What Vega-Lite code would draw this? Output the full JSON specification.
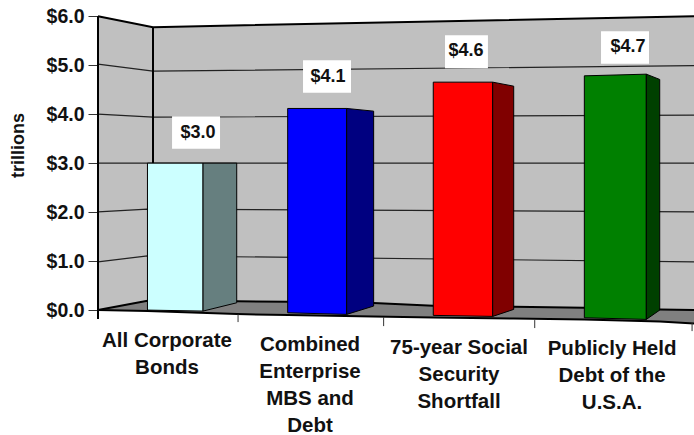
{
"$schema":"https://vega.github.io/schema/vega-lite/v6.json",
"width":596,"height":435,
"autosize":{"type":"none"},
"padding":{"left":98,"top":0,"right":0,"bottom":0},
"background":"white",
"config":{"view":{"stroke":null}},
"resolve":{"scale":{"color":"independent"}},
"datasets":{
"surface":[
{"part":"wall","pos":0,"top":6,"bottom":0},
{"part":"wall","pos":0.332,"top":5.796,"bottom":0.19},
{"part":"wall","pos":0.369,"top":5.776,"bottom":0.187},
{"part":"wall","pos":0.933,"top":5.81,"bottom":0.178},
{"part":"wall","pos":1.275,"top":5.83,"bottom":0.169},
{"part":"wall","pos":1.849,"top":5.867,"bottom":0.143},
{"part":"wall","pos":2.25,"top":5.89,"bottom":0.088},
{"part":"wall","pos":2.79,"top":5.925,"bottom":0.067},
{"part":"wall","pos":3.264,"top":5.955,"bottom":0.047},
{"part":"wall","pos":3.77,"top":5.985,"bottom":0.014},
{"part":"wall","pos":4,"top":6,"bottom":0},
{"part":"floor","pos":0,"top":0,"bottom":0},
{"part":"floor","pos":0.332,"top":0.19,"bottom":-0.02},
{"part":"floor","pos":0.933,"top":0.178,"bottom":-0.082},
{"part":"floor","pos":1.275,"top":0.169,"bottom":-0.102},
{"part":"floor","pos":1.849,"top":0.143,"bottom":-0.129},
{"part":"floor","pos":2.25,"top":0.088,"bottom":-0.153},
{"part":"floor","pos":2.79,"top":0.067,"bottom":-0.173},
{"part":"floor","pos":3.264,"top":0.047,"bottom":-0.194},
{"part":"floor","pos":3.77,"top":0.014,"bottom":-0.235},
{"part":"floor","pos":4,"top":0,"bottom":-0.276}
],
"gridlines":[
{"line":"5","pos":0,"top":5.02},{"line":"5","pos":0.369,"top":4.878},{"line":"5","pos":4,"top":4.99},
{"line":"4","pos":0,"top":4},{"line":"4","pos":0.369,"top":3.939},{"line":"4","pos":4,"top":3.98},
{"line":"3","pos":0,"top":3},{"line":"3","pos":4,"top":3},
{"line":"2","pos":0,"top":2.006},{"line":"2","pos":0.332,"top":2.06},{"line":"2","pos":4,"top":2.006},
{"line":"1","pos":0,"top":0.986},{"line":"1","pos":0.332,"top":1.108},{"line":"1","pos":4,"top":0.986}
],
"edges":[
{"line":"wall top","pos":0,"top":6},{"line":"wall top","pos":0.369,"top":5.776},{"line":"wall top","pos":4,"top":6},
{"line":"back floor","pos":0,"top":0},{"line":"back floor","pos":0.332,"top":0.19},{"line":"back floor","pos":0.933,"top":0.178},{"line":"back floor","pos":1.275,"top":0.169},{"line":"back floor","pos":1.849,"top":0.143},{"line":"back floor","pos":2.25,"top":0.088},{"line":"back floor","pos":2.79,"top":0.067},{"line":"back floor","pos":3.264,"top":0.047},{"line":"back floor","pos":3.77,"top":0.014},{"line":"back floor","pos":4,"top":0},
{"line":"front floor","pos":0,"top":0},{"line":"front floor","pos":0.332,"top":-0.02},{"line":"front floor","pos":0.933,"top":-0.082},{"line":"front floor","pos":1.275,"top":-0.102},{"line":"front floor","pos":1.849,"top":-0.129},{"line":"front floor","pos":2.25,"top":-0.153},{"line":"front floor","pos":2.79,"top":-0.173},{"line":"front floor","pos":3.264,"top":-0.194},{"line":"front floor","pos":3.77,"top":-0.235},{"line":"front floor","pos":4,"top":-0.276}
],
"verticals":[
{"pos":0,"top":6,"bottom":-0.18},
{"pos":0.369,"top":5.776,"bottom":3}
],
"ticks":[
{"pos":0.94,"top":-0.088,"bottom":-0.245},
{"pos":1.917,"top":-0.143,"bottom":-0.327},
{"pos":2.931,"top":-0.204,"bottom":-0.367},
{"pos":3.987,"top":-0.265,"bottom":-0.429}
],
"faces":[
{"face":"Bonds front","pos":0.332,"top":3,"bottom":0},
{"face":"Bonds front","pos":0.705,"top":3,"bottom":-0.02},
{"face":"Bonds side","pos":0.705,"top":3,"bottom":-0.02},
{"face":"Bonds side","pos":0.931,"top":3,"bottom":0.149},
{"face":"Enterprise front","pos":1.273,"top":4.116,"bottom":-0.055},
{"face":"Enterprise front","pos":1.669,"top":4.116,"bottom":-0.088},
{"face":"Enterprise side","pos":1.669,"top":4.116,"bottom":-0.088},
{"face":"Enterprise side","pos":1.85,"top":4.061,"bottom":0.082},
{"face":"Social front","pos":2.25,"top":4.653,"bottom":-0.108},
{"face":"Social front","pos":2.649,"top":4.653,"bottom":-0.129},
{"face":"Social side","pos":2.649,"top":4.653,"bottom":-0.129},
{"face":"Social side","pos":2.79,"top":4.571,"bottom":0.014},
{"face":"Debt front","pos":3.264,"top":4.782,"bottom":-0.157},
{"face":"Debt front","pos":3.68,"top":4.816,"bottom":-0.19},
{"face":"Debt side","pos":3.68,"top":4.816,"bottom":-0.19},
{"face":"Debt side","pos":3.77,"top":4.708,"bottom":0}
],
"boxes":[
{"pos":0.497,"posEnd":0.819,"top":3.959,"bottom":3.292},
{"pos":1.376,"posEnd":1.698,"top":5.102,"bottom":4.435},
{"pos":2.329,"posEnd":2.617,"top":5.612,"bottom":4.939},
{"pos":3.376,"posEnd":3.698,"top":5.694,"bottom":5.027}
],
"values":[
{"category":"All Corporate Bonds","value":3.0,"pos":0.671,"top":3.612},
{"category":"Combined Enterprise MBS and Debt","value":4.1,"pos":1.544,"top":4.765},
{"category":"75-year Social Security Shortfall","value":4.6,"pos":2.47,"top":5.292},
{"category":"Publicly Held Debt of the U.S.A.","value":4.7,"pos":3.557,"top":5.373}
],
"categories":[
{"label":"All Corporate\nBonds","pos":0.463,"top":-0.633},
{"label":"Combined\nEnterprise\nMBS and\nDebt","pos":1.423,"top":-0.714},
{"label":"75-year Social\nSecurity\nShortfall","pos":2.423,"top":-0.776},
{"label":"Publicly Held\nDebt of the\nU.S.A.","pos":3.45,"top":-0.796}
]
},
"encoding":{
"x":{"field":"pos","type":"quantitative","scale":{"domain":[0,4],"nice":false,"zero":false},"axis":null},
"y":{"field":"top","type":"quantitative","stack":null,"scale":{"domain":[-2.55,6.33],"nice":false,"zero":false},
"axis":{"title":"trillions","values":[0,1,2,3,4,5,6],"format":"$.1f","grid":false,"domain":false,"ticks":true,"tickSize":10,"tickColor":"#333333","tickWidth":1,"labelPadding":4,"labelFont":"Liberation Sans","labelFontWeight":"bold","labelFontSize":19.5,"labelColor":"#111111","titleFont":"Liberation Sans","titleFontWeight":"bold","titleFontSize":18,"titleColor":"#111111","titleX":-80,"titleY":145,"titleAlign":"center","titleBaseline":"middle"}}
},
"layer":[
{"data":{"name":"surface"},"mark":{"type":"area","orient":"vertical","opacity":1},
"encoding":{"y2":{"field":"bottom"},"color":{"field":"part","type":"nominal","legend":null,"scale":{"domain":["wall","floor"],"range":["#c0c0c0","#808080"]}}}},
{"data":{"name":"gridlines"},"mark":{"type":"line","stroke":"#222222","strokeWidth":1.2},
"encoding":{"detail":{"field":"line","type":"nominal"}}},
{"data":{"name":"edges"},"mark":{"type":"line","stroke":"#000000","strokeWidth":2},
"encoding":{"detail":{"field":"line","type":"nominal"}}},
{"data":{"name":"verticals"},"mark":{"type":"rule","stroke":"#000000","strokeWidth":2},
"encoding":{"y2":{"field":"bottom"}}},
{"data":{"name":"ticks"},"mark":{"type":"rule","stroke":"#333333","strokeWidth":1},
"encoding":{"y2":{"field":"bottom"}}},
{"data":{"name":"faces"},"mark":{"type":"area","orient":"vertical","opacity":1,"stroke":"#000000","strokeWidth":1},
"encoding":{"y2":{"field":"bottom"},"color":{"field":"face","type":"nominal","legend":null,"scale":{"domain":["Bonds front","Bonds side","Enterprise front","Enterprise side","Social front","Social side","Debt front","Debt side"],"range":["#ccffff","#667f7f","#0000ff","#000080","#ff0000","#800000","#008000","#004000"]}}}},
{"data":{"name":"boxes"},"mark":{"type":"rect","fill":"#ffffff"},
"encoding":{"x2":{"field":"posEnd"},"y2":{"field":"bottom"}}},
{"data":{"name":"values"},"mark":{"type":"text","font":"Liberation Sans","fontWeight":"bold","fontSize":18,"fill":"#111111","align":"center","baseline":"middle"},
"encoding":{"text":{"field":"value","type":"quantitative","format":"$.1f"}}},
{"data":{"name":"categories"},"mark":{"type":"text","font":"Liberation Sans","fontWeight":"bold","fontSize":20.5,"fill":"#111111","align":"center","baseline":"middle","lineBreak":"\n","lineHeight":27},
"encoding":{"text":{"field":"label","type":"nominal"}}}
]
}
